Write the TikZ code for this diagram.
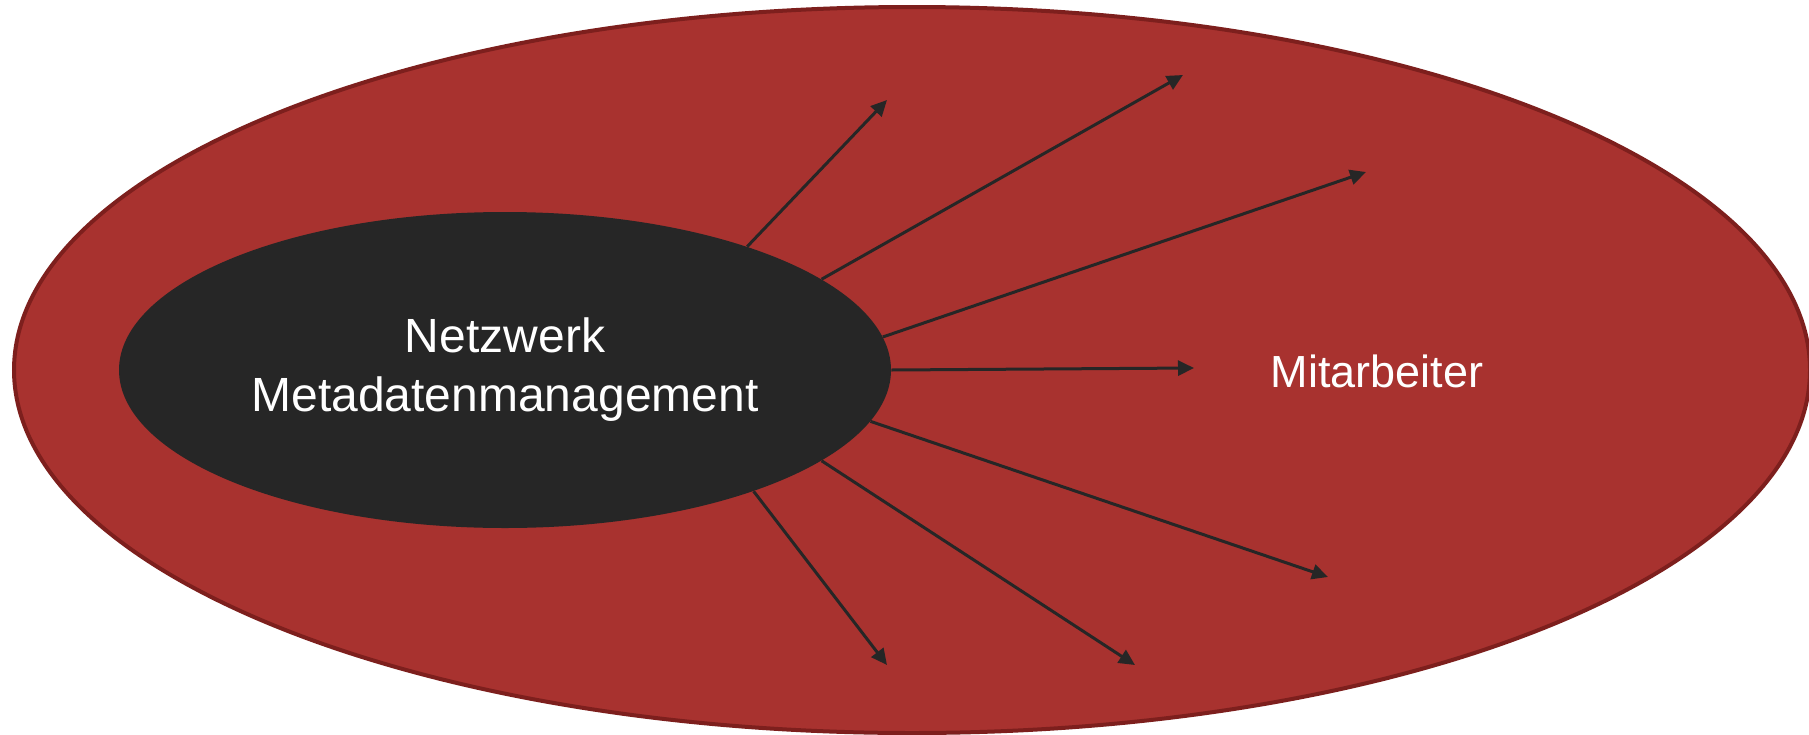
\documentclass[tikz,border=0pt]{standalone}
\usepackage{fontspec}
\setmainfont{Liberation Sans}
\usetikzlibrary{shapes.geometric}
\usetikzlibrary{arrows.meta}
\definecolor{ringred}{RGB}{168,50,47}
\definecolor{ringline}{RGB}{125,31,29}
\definecolor{coal}{RGB}{38,38,38}

\tikzset{
  netzbox/.style={ellipse, fill=coal, minimum width=386pt, minimum height=158pt,
    inner sep=0pt, align=center, text=white, font=\fontsize{24}{29.5}\selectfont},
  pfeil/.style={draw=coal, line width=1.5pt, -{Triangle[length=8pt,width=7.5pt]}}
}

\begin{document}
\begin{tikzpicture}[x=0.5pt, y=-0.5pt]
  \useasboundingbox (0,0) rectangle (1809,734);
  \filldraw[fill=ringred, draw=ringline, line width=2pt]
    (912,370) ellipse [x radius=898, y radius=363];

  \node[text=white, font=\fontsize{22.5}{27}\selectfont] (mitarbeiter) at (1377,371) {Mitarbeiter};

  \node[netzbox] (netz) at (505,370) {Netzwerk\\Metadatenmanagement};

  % arrow targets
  \coordinate (t1) at (887,100);
  \coordinate (t2) at (1183,75);
  \coordinate (t3) at (1366,172);
  \coordinate (t4) at (1194,368);
  \coordinate (t5) at (1328,577);
  \coordinate (t6) at (1135,665);
  \coordinate (t7) at (887,665);

  \foreach \a/\z in {27/t1, 16.5/t2, 5.5/t3, 0/t4, -8.8/t5, -16/t6, -26/t7} {
    \draw[pfeil] (netz.\a) -- (\z);
  }
\end{tikzpicture}
\end{document}
